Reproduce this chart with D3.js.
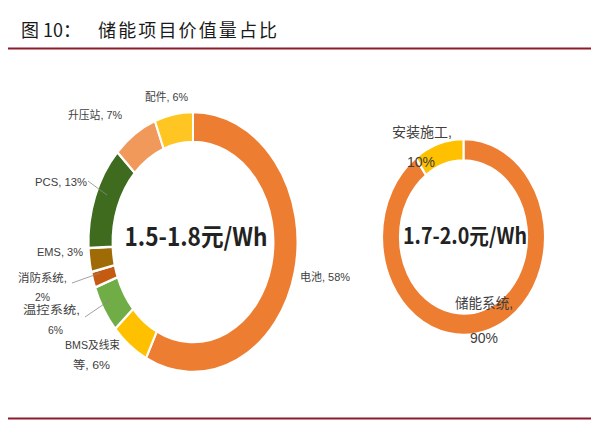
<!DOCTYPE html>
<html><head><meta charset="utf-8">
<script src="https://cdn.jsdelivr.net/npm/d3@7"></script>
<style>body{margin:0;background:#fff}svg{display:block}</style>
</head><body>
<script>
const leftCats = ["电池","BMS及线束等","温控系统","消防系统","EMS","PCS","升压站","配件"];
const leftVals = [58,6,6,2,3,13,7,6];
const leftColors = ["#ED7D31","#FFC000","#70AD47","#C55A11","#9E6B06","#3E6B1E","#F1995B","#FFC623"];
const rightCats = ["储能系统","安装施工"];
const rightVals = [90,10];
const rightColors = ["#ED7D31","#FFC000"];
const titleFig = "图";
const titleNum = "10：";
const titleText = "储能项目价值量占比";
const centerLeft = "1.5-1.8元/Wh";
const centerRight = "1.7-2.0元/Wh";

const W=600,H=425;
const svg=d3.select("body").append("svg").attr("width",W).attr("height",H);
const cjk="'Noto Sans CJK SC','Liberation Sans',sans-serif";
const lab="'Liberation Sans','Noto Sans CJK SC',sans-serif";

svg.append("text").attr("x",21).attr("y",37).attr("font-family",cjk).attr("font-size",18)
  .attr("fill","#1a1a1a").text(titleFig);
svg.append("text").attr("x",43).attr("y",37).attr("font-family",cjk).attr("font-size",18)
  .attr("fill","#1a1a1a").text(titleNum);
svg.append("text").attr("x",98).attr("y",37).attr("font-family",cjk).attr("font-size",18)
  .attr("fill","#1a1a1a").attr("textLength",179).attr("lengthAdjust","spacing").text(titleText);
svg.append("line").attr("x1",8).attr("x2",591).attr("y1",48.5).attr("y2",48.5).attr("stroke","#8E1B2C").attr("stroke-width",2);
svg.append("line").attr("x1",8).attr("x2",591).attr("y1",418.5).attr("y2",418.5).attr("stroke","#8E1B2C").attr("stroke-width",2);

function donut(cx,cy,rx,ry,ratio,vals,colors){
  const pie=d3.pie().sort(null).value(d=>d);
  const arc=d3.arc().innerRadius(ry*ratio).outerRadius(ry);
  const g=svg.append("g").attr("transform",`translate(${cx},${cy}) scale(${rx/ry},1)`);
  g.selectAll("path").data(pie(vals)).join("path").attr("d",arc)
    .attr("fill",(d,i)=>colors[i]).attr("stroke","#fff").attr("stroke-width",2.5);
}
donut(193,242,104.5,130,0.77,leftVals,leftColors);
donut(463.5,237,81.5,98,0.78,rightVals,rightColors);

function t(x,y,s,size,opts={}){
  const e=svg.append("text").attr("x",x).attr("y",y).attr("font-family",opts.f||lab).attr("font-size",size)
   .attr("fill",opts.c||"#404040").attr("text-anchor",opts.a||"start").text(s);
  if(opts.w) e.attr("textLength",opts.w).attr("lengthAdjust","spacingAndGlyphs");
  if(opts.b) e.attr("font-weight","bold");
  return e;
}
// center texts
t(196,246,centerLeft,25,{f:cjk,b:1,c:"#222",a:"middle",w:143});
t(465,244,centerRight,22,{f:cjk,b:1,c:"#222",a:"middle",w:124});

// left labels
const fs=11;
t(145,101,leftCats[7]+", "+leftVals[7]+"%",fs,{w:43});
t(68,119,leftCats[6]+", "+leftVals[6]+"%",fs,{w:54});
t(35,186,leftCats[5]+", "+leftVals[5]+"%",fs,{w:52});
t(37,256,leftCats[4]+", "+leftVals[4]+"%",fs,{w:46});
t(18,282,leftCats[3]+",",fs,{w:49});
t(35,301,leftVals[3]+"%",fs,{w:15});
t(23,314,leftCats[2]+",",fs,{w:57});
t(48,334,leftVals[2]+"%",fs,{w:15});
t(65,349,"BMS及线束",fs,{w:55});
t(73,369,"等, "+leftVals[1]+"%",fs,{w:37});
t(300,281,leftCats[0]+", "+leftVals[0]+"%",fs,{w:50});
// leader lines
const ll=[[88,181,107,195],[72,283,100,273],[85,317,110,300]];
svg.selectAll("line.ld").data(ll).join("line").attr("class","ld")
  .attr("x1",d=>d[0]).attr("y1",d=>d[1]).attr("x2",d=>d[2]).attr("y2",d=>d[3])
  .attr("stroke","#8a8a8a").attr("stroke-width",0.8);

// right labels
t(392,137,rightCats[1]+",",14,{w:60});
t(407,167,rightVals[1]+"%",14,{w:28});
t(455,308,rightCats[0]+",",14,{w:58});
t(470,343,rightVals[0]+"%",14,{w:28});
</script>
</body></html>
